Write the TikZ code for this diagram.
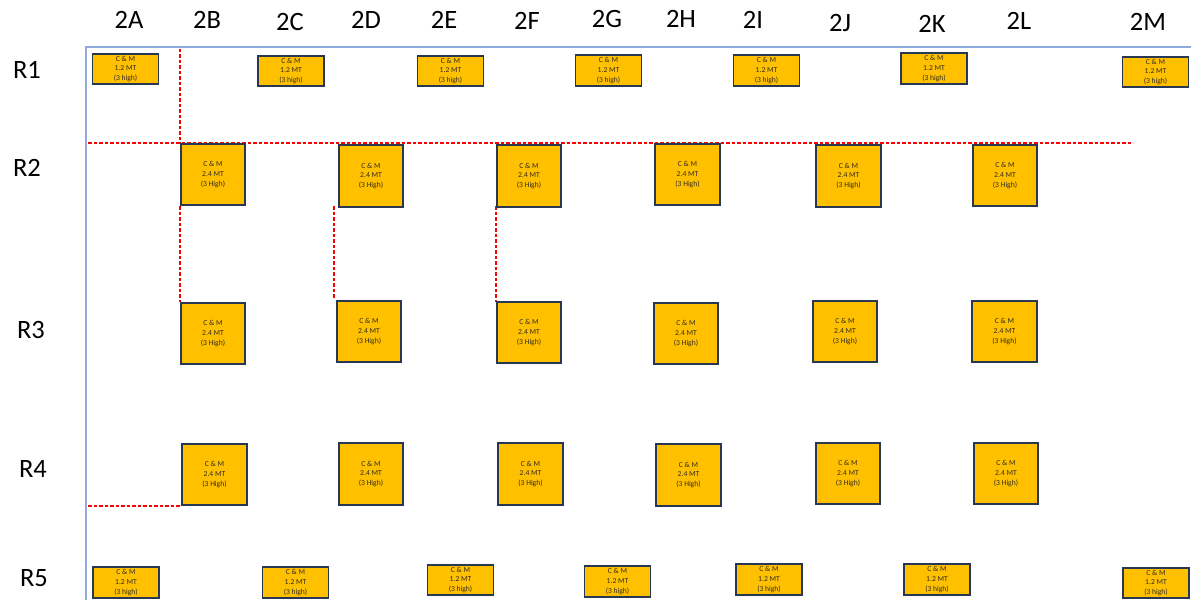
\documentclass[tikz,border=0pt]{standalone}
\usepackage{fontspec}
\setmainfont{Carlito}
\definecolor{gold}{RGB}{255,192,0}
\definecolor{boxline}{RGB}{40,56,84}
\definecolor{boxtext}{RGB}{50,44,30}
\definecolor{framecol}{RGB}{143,170,220}
\definecolor{guidered}{RGB}{255,0,0}
\begin{document}
\begin{tikzpicture}[x=1pt,y=-1pt,
  box/.style={draw=boxline, line width=1.9pt, fill=gold, inner sep=0pt, outer sep=0pt,
    font=\fontsize{7.6}{9.8}\selectfont, text=boxtext, align=center},
  small/.style={box, minimum width=66pt, minimum height=30.5pt},
  big/.style={box, minimum width=64.5pt, minimum height=61.5pt},
  guide/.style={draw=guidered, line width=1.1pt, dash pattern=on 3.5pt off 2pt},
  framel/.style={draw=framecol, line width=1.4pt},
  lab/.style={font=\fontsize{26.5}{30}\selectfont, inner sep=0pt, text=black}]
\useasboundingbox (0,0) rectangle (1191,600);
\def\smalltext{C \& M\\1.2 MT\\(3 high)}
\def\bigtext{C \& M\\2.4 MT\\(3 High)}

% column labels
\node[lab] (c2a) at (129,20) {2A};
\node[lab] (c2b) at (207,20) {2B};
\node[lab] (c2c) at (290,22) {2C};
\node[lab] (c2d) at (366,20) {2D};
\node[lab] (c2e) at (444,20) {2E};
\node[lab] (c2f) at (527,21) {2F};
\node[lab] (c2g) at (607,19) {2G};
\node[lab] (c2h) at (681,19) {2H};
\node[lab] (c2i) at (753,20) {2I};
\node[lab] (c2j) at (840,23) {2J};
\node[lab] (c2k) at (932,24) {2K};
\node[lab] (c2l) at (1019,21) {2L};
\node[lab] (c2m) at (1148,22) {2M};

% row labels
\node[lab] (rr1) at (27,70) {R1};
\node[lab] (rr2) at (27,168) {R2};
\node[lab] (rr3) at (31,330) {R3};
\node[lab] (rr4) at (33,469) {R4};
\node[lab] (rr5) at (34,578) {R5};

% frame
\coordinate (fbl) at (86,600);
\coordinate (ftl) at (86,47);
\coordinate (ftr) at (1191,47);
\draw[framel] (fbl) -- (ftl) -- (ftr);

% guide coordinates
\coordinate (gtop) at (180,48.5);
\coordinate (gh1) at (88,143);
\coordinate (gh2) at (1133,143);
\coordinate (gd1) at (334,206);
\coordinate (gd2) at (334,298);
\coordinate (gf1) at (496,206);
\coordinate (gf2) at (496,302);
\coordinate (gb1) at (180,206);
\coordinate (gb2) at (180,302);
\coordinate (gl1) at (88,506);
\coordinate (gl2) at (181,506);
\draw[guide] (gtop) -- (gh1 -| gtop);
\draw[guide] (gh1) -- (gh2);
\draw[guide] (gb1) -- (gb2);
\draw[guide] (gd1) -- (gd2);
\draw[guide] (gf1) -- (gf2);
\draw[guide] (gl1) -- (gl2);

% R1
\node[small] (r1a) at (125.5,69) {\smalltext};
\node[small] (r1c) at (291,71) {\smalltext};
\node[small] (r1e) at (450.5,71) {\smalltext};
\node[small] (r1g) at (608.5,70.5) {\smalltext};
\node[small] (r1i) at (766.5,70.5) {\smalltext};
\node[small] (r1k) at (934,68.5) {\smalltext};
\node[small] (r1m) at (1155.5,72) {\smalltext};

% R2
\node[big] (r2b) at (213,174.5) {\bigtext};
\node[big] (r2d) at (371,176) {\bigtext};
\node[big] (r2f) at (529,176) {\bigtext};
\node[big] (r2h) at (687.5,174.5) {\bigtext};
\node[big] (r2j) at (848.5,176) {\bigtext};
\node[big] (r2l) at (1005,175.5) {\bigtext};

% R3
\node[big] (r3b) at (213,333.5) {\bigtext};
\node[big] (r3d) at (369,331.5) {\bigtext};
\node[big] (r3f) at (529,332.5) {\bigtext};
\node[big] (r3h) at (686,333.5) {\bigtext};
\node[big] (r3j) at (845,331.5) {\bigtext};
\node[big] (r3l) at (1004.5,331.5) {\bigtext};

% R4
\node[big] (r4b) at (214.5,474.5) {\bigtext};
\node[big] (r4d) at (371,474) {\bigtext};
\node[big] (r4f) at (530.5,474) {\bigtext};
\node[big] (r4h) at (688.5,475) {\bigtext};
\node[big] (r4j) at (848,473.5) {\bigtext};
\node[big] (r4l) at (1006,473.5) {\bigtext};

% R5
\node[small] (r5a) at (126,582.5) {\smalltext};
\node[small] (r5c) at (295.5,582.5) {\smalltext};
\node[small] (r5e) at (460.5,580) {\smalltext};
\node[small] (r5g) at (617.5,581.5) {\smalltext};
\node[small] (r5i) at (769,579.5) {\smalltext};
\node[small] (r5k) at (937,579.5) {\smalltext};
\node[small] (r5m) at (1156,583) {\smalltext};
\end{tikzpicture}
\end{document}
